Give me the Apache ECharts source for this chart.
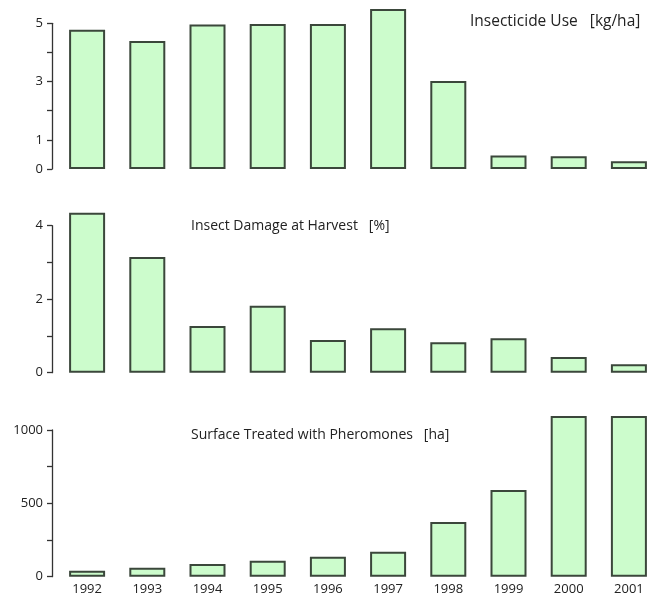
<!DOCTYPE html>
<html>
<head>
<meta charset="utf-8">
<script src="https://cdn.jsdelivr.net/npm/echarts@6/dist/echarts.min.js"></script>
<style>
html,body{margin:0;padding:0;background:#fff;}
#chart{width:662px;height:599px;}
</style>
</head>
<body>
<div id="chart"></div>
<script>
// ---- data ----
var years = ['1992','1993','1994','1995','1996','1997','1998','1999','2000','2001'];
var insecticideUse = [4.78, 4.39, 4.96, 4.98, 4.98, 5.49, 3.02, 0.46, 0.44, 0.27];
var insectDamage = [4.35, 3.15, 1.27, 1.82, 0.89, 1.21, 0.83, 0.94, 0.43, 0.23];
var pheromoneSurface = [41, 61, 87, 109, 136, 170, 373, 591, 1095, 1095];

var titles = ['Insecticide Use   [kg/ha]', 'Insect Damage at Harvest   [%]', 'Surface Treated with Pheromones   [ha]'];
var insecticideTickLabels = [0, 1, 3, 5];
var damageTickLabels = [0, 2, 4];
var pheromoneTickLabels = [0, 500, 1000];

// ---- layout ----
var gridLeft = 57, gridWidth = 602;
var panels = [
  {data: insecticideUse, zeroY: 169, topTickY: 23.3, tickMax: 5, interval: 1, dataMax: 5.8, labels: insecticideTickLabels, title: titles[0], titleX: 470, titleY: 22, titleSize: 15.5},
  {data: insectDamage, zeroY: 372.7, topTickY: 225.7, tickMax: 4, interval: 1, dataMax: 4.6, labels: damageTickLabels, title: titles[1], titleX: 191, titleY: 226, titleSize: 14},
  {data: pheromoneSurface, zeroY: 576.7, topTickY: 430, tickMax: 1000, interval: 250, dataMax: 1110, labels: pheromoneTickLabels, title: titles[2], titleX: 191, titleY: 435, titleSize: 14}
];

var FONT = '"Open Sans", "Noto Sans", sans-serif';
var grids = [], xAxes = [], yAxes = [], series = [], graphics = [];

panels.forEach(function (p, i) {
  var ppu = (p.zeroY - p.topTickY) / p.tickMax;
  var dataH = p.dataMax * ppu;
  var isLast = i === panels.length - 1;
  // data grid
  grids.push({left: gridLeft, width: gridWidth, top: p.zeroY - dataH, height: dataH});
  var gi = grids.length - 1;
  xAxes.push({
    type: 'category', gridIndex: gi, data: years,
    axisLine: {show: false}, axisTick: {show: false},
    axisLabel: {show: isLast, color: '#222', fontSize: 13, fontFamily: FONT, margin: 6}
  });
  yAxes.push({
    type: 'value', gridIndex: gi, min: 0, max: p.dataMax, show: false
  });
  series.push({
    type: 'bar', xAxisIndex: gi, yAxisIndex: gi, data: p.data,
    barWidth: 36,
    itemStyle: {color: '#ccfccc', borderColor: '#3b473b', borderWidth: 2},
    silent: true, animation: false
  });
  // axis grid (R-style axis spanning only 0..max tick)
  grids.push({left: gridLeft, width: gridWidth, top: p.topTickY, height: p.zeroY - p.topTickY});
  var ai = grids.length - 1;
  xAxes.push({type: 'category', gridIndex: ai, data: years, show: false});
  var labs = p.labels;
  yAxes.push({
    type: 'value', gridIndex: ai, min: 0, max: p.tickMax, interval: p.interval,
    offset: 5,
    axisLine: {show: true, lineStyle: {color: '#333', width: 1.3}},
    axisTick: {show: true, length: 5, lineStyle: {color: '#333', width: 1.3}},
    splitLine: {show: false},
    axisLabel: {
      color: '#222', fontSize: 13, fontFamily: FONT, margin: 9,
      formatter: function (v) { return labs.indexOf(v) >= 0 ? String(v) : ''; }
    }
  });
  graphics.push({
    type: 'text', x: p.titleX, y: p.titleY,
    style: {text: p.title, fill: '#222', font: p.titleSize + 'px ' + FONT, textVerticalAlign: 'middle'}
  });
});

var chart = echarts.init(document.getElementById('chart'), null, {renderer: 'canvas'});
chart.setOption({
  animation: false,
  backgroundColor: '#fff',
  grid: grids, xAxis: xAxes, yAxis: yAxes, series: series,
  graphic: graphics
});
</script>
</body>
</html>
